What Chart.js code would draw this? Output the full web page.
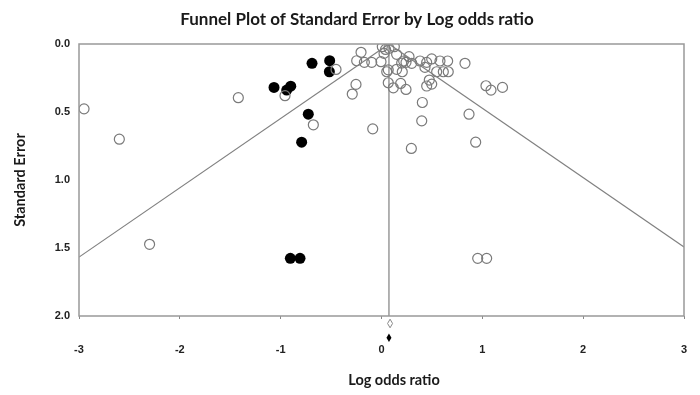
<!DOCTYPE html>
<html>
<head>
<meta charset="utf-8">
<script src="https://cdn.jsdelivr.net/npm/chart.js@4"></script>
<style>
  html, body { margin: 0; padding: 0; background: #fff; }
  #wrap { width: 700px; height: 395px; }
</style>
</head>
<body>
<div id="wrap"><canvas id="funnel" width="700" height="395"></canvas></div>
<script>
// Observed studies (open circles): log odds ratio / standard error
const openX = [-2.95, -2.60, -2.30, 0.954, 1.043, -1.42, -0.957, -0.451, -0.676, -0.087,
  0.296, 0.399, 0.405, -0.253, -0.29, -0.203, -0.246, -0.17, -0.097, -0.005,
  0.008, 0.025, 0.074, 0.127, 0.15, 0.273, 0.243, 0.3, 0.382, 0.448,
  0.498, 0.58, 0.656, 0.828, 0.431, 0.547, 0.613, 0.662, 0.052, 0.067,
  0.15, 0.206, 0.067, 0.117, 0.19, 0.243, 0.474, 0.448, 0.498, 0.868,
  0.934, 1.036, 1.086, 1.2, 0.22, 0.04, 0.2];
const openSE = [0.477, 0.70, 1.473, 1.576, 1.576, 0.395, 0.38, 0.187, 0.594, 0.624,
  0.768, 0.565, 0.43, 0.297, 0.368, 0.061, 0.123, 0.135, 0.135, 0.13,
  0.02, 0.069, 0.032, 0.02, 0.076, 0.093, 0.135, 0.142, 0.125, 0.135,
  0.11, 0.125, 0.125, 0.142, 0.172, 0.204, 0.204, 0.204, 0.204, 0.19,
  0.186, 0.204, 0.285, 0.322, 0.29, 0.334, 0.265, 0.309, 0.295, 0.516,
  0.722, 0.307, 0.339, 0.319, 0.125, 0.04, 0.14];

// Imputed studies (filled circles)
const imputedX = [-1.066, -0.94, -0.90, -0.689, -0.514, -0.517, -0.726, -0.792, -0.904, -0.808];
const imputedSE = [0.319, 0.339, 0.31, 0.142, 0.123, 0.204, 0.516, 0.722, 1.576, 1.576];

// Combined effect line and 95% funnel limits
const effectX = [0.074, 0.074];
const effectSE = [0, 2];
const leftLimitX = [-3, 0.074];
const leftLimitSE = [1.567, 0];
const rightLimitX = [0.074, 3];
const rightLimitSE = [0, 1.493];

// Summary diamonds below the axis (observed = open, adjusted = filled)
const summaryX = [0.085, 0.074];
const summarySE = [2.055, 2.16];
const summaryFilled = [false, true];

const xTicks = [-3, -2, -1, 0, 1, 2, 3];

function pts(xs, ys) {
    return xs.map((x, i) => ({ x: x, y: ys[i] }));
}

// points below the x axis are skipped by Chart.js, so draw the diamonds here
const diamonds = {
    id: 'diamonds',
    afterDatasetsDraw(chart) {
        const ctx = chart.ctx;
        const sx = chart.scales.x, sy = chart.scales.y;
        ctx.save();
        summaryX.forEach((v, i) => {
            const px = sx.getPixelForValue(v);
            const py = sy.getPixelForValue(summarySE[i]);
            ctx.beginPath();
            ctx.moveTo(px, py - 4.3);
            ctx.lineTo(px + 2.5, py);
            ctx.lineTo(px, py + 4.3);
            ctx.lineTo(px - 2.5, py);
            ctx.closePath();
            if (summaryFilled[i]) {
                ctx.fillStyle = '#000';
                ctx.fill();
            } else {
                ctx.strokeStyle = '#888';
                ctx.lineWidth = 1;
                ctx.stroke();
            }
        });
        ctx.restore();
    }
};

// frame round the plot, chart title and x axis title
const frame = {
    id: 'frame',
    afterDraw(chart) {
        const { ctx, chartArea: a } = chart;
        ctx.save();
        ctx.strokeStyle = '#999';
        ctx.lineWidth = 1.5;
        ctx.strokeRect(a.left, a.top, a.right - a.left, a.bottom - a.top);
        ctx.fillStyle = '#1a1a1a';
        ctx.textAlign = 'center';
        ctx.textBaseline = 'middle';
        ctx.font = 'bold 17px Lato';
        ctx.fillText('Funnel Plot of Standard Error by Log odds ratio', 357, 20);
        ctx.font = 'bold 14.5px Lato';
        ctx.fillText('Log odds ratio', 394, 380);
        ctx.restore();
    }
};

const lineStyle = {
    type: 'line',
    borderColor: '#808080',
    borderWidth: 1.2,
    pointRadius: 0,
    fill: false,
    tension: 0
};

new Chart(document.getElementById('funnel'), {
    type: 'scatter',
    data: {
        datasets: [
            Object.assign({ data: pts(effectX, effectSE) }, lineStyle),
            Object.assign({ data: pts(leftLimitX, leftLimitSE) }, lineStyle),
            Object.assign({ data: pts(rightLimitX, rightLimitSE) }, lineStyle),
            {
                data: pts(openX, openSE),
                pointRadius: 5,
                pointBorderWidth: 1.2,
                pointBorderColor: '#7a7a7a',
                pointBackgroundColor: 'rgba(255,255,255,0)'
            },
            {
                data: pts(imputedX, imputedSE),
                pointRadius: 5.5,
                pointBorderWidth: 0,
                pointBackgroundColor: '#000'
            }
        ]
    },
    options: {
        responsive: false,
        animation: false,
        layout: { padding: { top: 44, right: 16, left: 0, bottom: 0 } },
        plugins: {
            legend: { display: false },
            tooltip: { enabled: false }
        },
        scales: {
            x: {
                type: 'linear',
                min: -3,
                max: 3,
                afterBuildTicks: (scale) => { scale.ticks = xTicks.map(v => ({ value: v })); },
                afterFit: (scale) => {
                    scale.height = 79;
                    scale.paddingLeft = 0;
                    scale.paddingRight = 0;
                },
                border: { display: false },
                grid: { drawOnChartArea: false, drawTicks: true, tickLength: 3, color: '#888' },
                ticks: {
                    padding: 24,
                    color: '#222',
                    font: { family: 'Liberation Sans', size: 11, weight: 'bold' }
                },
                title: { display: false }
            },
            y: {
                type: 'linear',
                reverse: true,
                min: 0,
                max: 2,
                afterFit: (scale) => { scale.width = 79; },
                border: { display: false },
                grid: { display: false, drawTicks: false },
                ticks: {
                    stepSize: 0.5,
                    padding: 9,
                    color: '#222',
                    font: { family: 'Liberation Sans', size: 11, weight: 'bold' },
                    callback: (v) => v.toFixed(1)
                },
                title: {
                    display: true,
                    text: 'Standard Error',
                    color: '#1a1a1a',
                    font: { family: 'Lato', size: 14.5, weight: 'bold' },
                    padding: { top: 12, bottom: 0 }
                }
            }
        }
    },
    plugins: [frame, diamonds]
});
</script>
</body>
</html>
